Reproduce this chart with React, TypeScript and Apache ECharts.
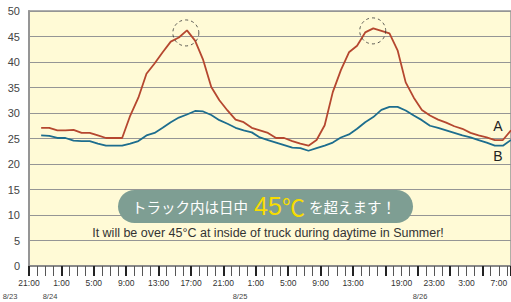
import React, { useEffect, useRef } from "react";
import * as echarts from "echarts";

// hours counted from 21:00 on 8/23; first reading half an hour after 22:00
const START_HOUR = 1.5;
const tempA = [27.1, 27.1, 26.6, 26.6, 26.7, 26.1, 26.1, 25.6, 25.1, 25.1, 25.1,
  29.5, 33.0, 37.7, 39.7, 41.9, 44.0, 44.8, 46.2,
  44.2, 40.4, 35.1, 32.5, 30.5, 28.7, 28.2, 27.1, 26.6, 26.1, 25.1, 25.1, 24.5, 24.0, 23.6, 24.7, 27.6, 34.1, 38.4, 41.9,
  43.2, 45.8, 46.6, 46.1, 45.6, 42.3, 36.0, 33.0, 30.6, 29.5, 28.7, 28.1, 27.4, 26.9, 26.1, 25.6, 25.2, 24.7, 24.7, 26.6];
const tempB = [25.6, 25.5, 25.1, 25.1, 24.6, 24.5, 24.5, 24.0, 23.6, 23.6, 23.6,
  24.0, 24.5, 25.6, 26.1, 27.1, 28.2, 29.1, 29.7,
  30.4, 30.3, 29.6, 28.6, 27.9, 27.1, 26.6, 26.2, 25.2, 24.7, 24.2, 23.7, 23.2, 23.1, 22.6, 23.1, 23.6, 24.2, 25.2, 25.8,
  26.9, 28.2, 29.2, 30.6, 31.2, 31.2, 30.5, 29.5, 28.6, 27.5, 27.1, 26.6, 26.1, 25.6, 25.2, 24.7, 24.2, 23.6, 23.6, 24.7];
const peakMarks = [[19.36, 45.7], [42.43, 46.1]];
const tickLabels: Record<number, string> = {
  0: "21:00", 4: "1:00", 8: "5:00", 12: "9:00", 16: "13:00", 20: "17:00",
  24: "21:00", 28: "1:00", 32: "5:00", 36: "9:00", 40: "13:00",
  46: "19:00", 50: "23:00", 54: "3:00", 58: "7:00",
};
const dateLabels = [
  { text: "8/23", x: 10 },
  { text: "8/24", x: 50 },
  { text: "8/25", x: 240 },
  { text: "8/26", x: 420 },
];

const FONT = "Liberation Sans, Arial, sans-serif";
const JP = "Noto Sans CJK JP, sans-serif";

export default function App() {
  const ref = useRef<HTMLDivElement>(null);
  useEffect(() => {
    if (!ref.current) return;
    const chart = echarts.init(ref.current, null, { renderer: "svg" });
    const xMax = 59.5;
    chart.setOption({
      animation: false,
      backgroundColor: "#ffffff",
      grid: {
        left: 29, top: 11, right: 0, bottom: 36,
        show: true, backgroundColor: "#FFFAD6", borderColor: "#959595", borderWidth: 1.5,
      },
      xAxis: [
        {
          type: "value", min: 0, max: xMax, interval: 1,
          axisLine: { show: true, lineStyle: { color: "#8a8a8a", width: 2 } },
          axisTick: { show: true, length: 10, lineStyle: { color: "#555", width: 1 } },
          splitLine: { show: false },
          axisLabel: {
            margin: 12, fontSize: 8.5, color: "#333", fontFamily: FONT,
            showMinLabel: true, showMaxLabel: false,
            formatter: (v: number) => tickLabels[v] ?? "",
          },
        },
        {
          type: "value", min: 0, max: xMax, interval: 4, position: "bottom",
          axisLine: { show: false },
          axisTick: { show: true, length: 10, lineStyle: { color: "#222", width: 2 } },
          splitLine: { show: false },
          axisLabel: { show: false },
        },
      ],
      yAxis: {
        type: "value", min: 0, max: 50, interval: 5,
        axisLine: { show: true, lineStyle: { color: "#959595", width: 2 } },
        axisTick: { show: false },
        splitLine: { show: true, lineStyle: { color: "#959595", width: 1.2 } },
        axisLabel: { margin: 9, fontSize: 11, color: "#444", fontFamily: FONT },
      },
      series: [
        {
          type: "line", name: "A", xAxisIndex: 0,
          data: tempA.map((v, i) => [START_HOUR + i, v]),
          showSymbol: false, symbol: "none",
          lineStyle: { color: "#B5472F", width: 1.8 },
        },
        {
          type: "line", name: "B", xAxisIndex: 0,
          data: tempB.map((v, i) => [START_HOUR + i, v]),
          showSymbol: false, symbol: "none",
          lineStyle: { color: "#1D6D8E", width: 1.8 },
        },
        {
          type: "scatter", xAxisIndex: 0, data: peakMarks, symbolSize: 26,
          itemStyle: { color: "rgba(0,0,0,0)", borderColor: "#333", borderWidth: 1, borderType: [3, 3] },
          z: 5,
        },
      ],
      graphic: [
        {
          type: "rect", z: 100,
          shape: { x: 118, y: 190, width: 295, height: 33, r: 16.5 },
          style: { fill: "#7E9E93" },
        },
        {
          type: "text", z: 101, x: 264, y: 206,
          style: {
            text: "{w|トラック内は日中}{y|45}{c|℃}{w|を超えます！}",
            align: "center", verticalAlign: "middle",
            rich: {
              w: { fontSize: 14.5, fill: "#ffffff", fontFamily: JP },
              y: { fontSize: 25, fill: "#F7DC00", fontFamily: FONT, padding: [0, 0, 0, 6] },
              c: { fontSize: 23, fill: "#F7DC00", fontFamily: JP, padding: [0, 4, 0, 0] },
            },
          },
        },
        {
          type: "text", z: 101, x: 268, y: 233,
          style: {
            text: "It will be over 45°C at inside of truck during daytime in Summer!",
            align: "center", verticalAlign: "middle",
            fontSize: 12.5, fill: "#333", fontFamily: FONT,
          },
        },
        {
          type: "text", z: 101, x: 498, y: 126,
          style: { text: "A", align: "center", verticalAlign: "middle", fontSize: 14, fill: "#222", fontFamily: FONT },
        },
        {
          type: "text", z: 101, x: 498, y: 156,
          style: { text: "B", align: "center", verticalAlign: "middle", fontSize: 14, fill: "#222", fontFamily: FONT },
        },
        ...dateLabels.map((d) => ({
          type: "text", z: 101, x: d.x, y: 296,
          style: { text: d.text, align: "center", verticalAlign: "middle", fontSize: 7.5, fill: "#444", fontFamily: FONT },
        })),
      ],
    });
    return () => chart.dispose();
  }, []);
  return <div ref={ref} style={{ width: 511, height: 302, position: "absolute", left: 0, top: 0 }} />;
}
